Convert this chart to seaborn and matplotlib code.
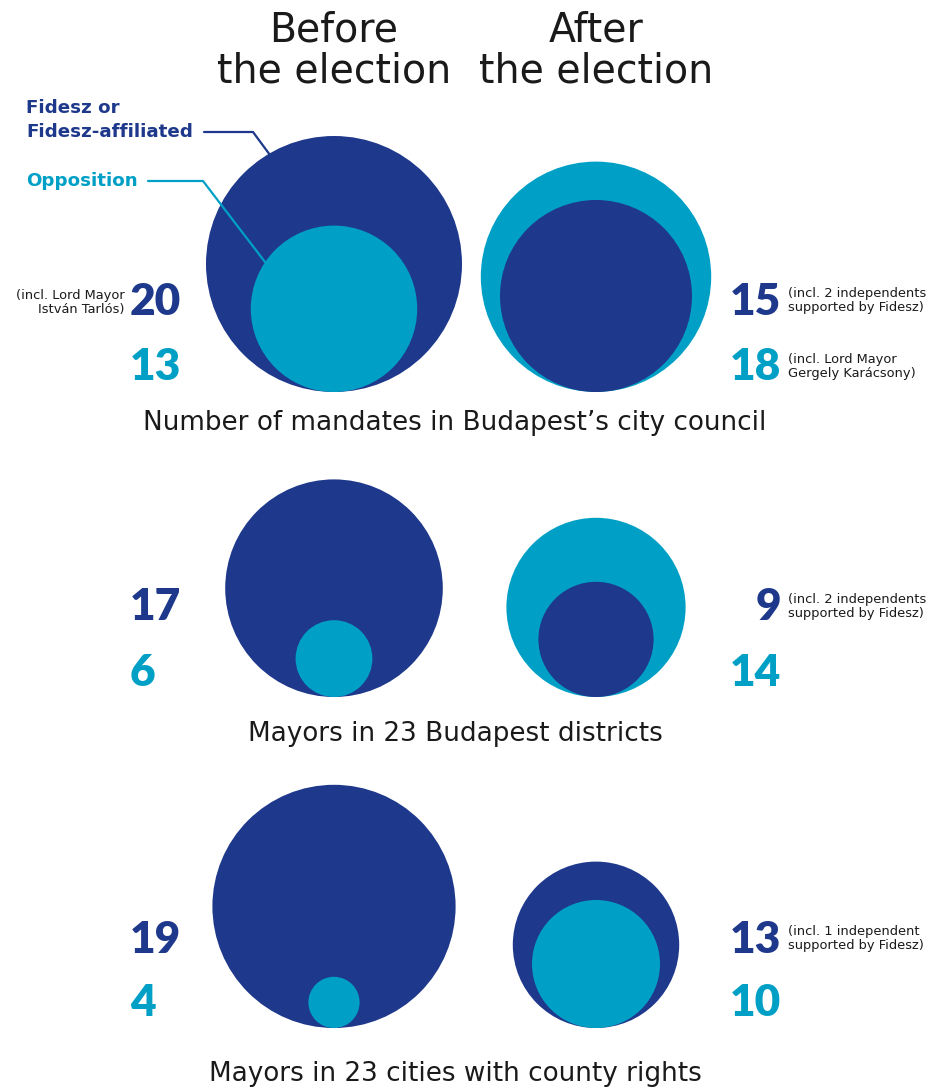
import numpy as np
import pandas as pd
import matplotlib
matplotlib.use("Agg")
import matplotlib.pyplot as plt
import seaborn as sns

# ---------------- data ----------------
rows = ["Number of mandates in Budapest\u2019s city council",
        "Mayors in 23 Budapest districts",
        "Mayors in 23 cities with county rights"]
fidesz_before = [20, 17, 19]
opp_before = [13, 6, 4]
fidesz_after = [15, 9, 13]
opp_after = [18, 14, 10]
notes_before = ["(incl. Lord Mayor\nIstv\u00e1n Tarl\u00f3s)", "", ""]
notes_after_fidesz = ["(incl. 2 independents\nsupported by Fidesz)",
                      "(incl. 2 independents\nsupported by Fidesz)",
                      "(incl. 1 independent\nsupported by Fidesz)"]
notes_after_opp = ["(incl. Lord Mayor\nGergely Kar\u00e1csony)", "", ""]

NAVY = "#1E388B"
CYAN = "#00A0C6"
TEXT = "#1a1a1a"

# ---------------- layout ----------------
W, H = 942, 1088
DPI = 100
scale = 6.4                       # px of radius per unit
cx_before, cx_after = 334, 596
row_bottom = [392, 697, 1028]
num_y = [(302, 367), (607, 673), (940, 1003)]
caption_y = [423, 734, 1074]

sns.set_theme(style="white")
plt.rcParams["font.family"] = ["DejaVu Sans"]
NUMFONT = ["Lato", "DejaVu Sans"]

fig = plt.figure(figsize=(W / DPI, H / DPI), dpi=DPI)
ax = fig.add_axes([0, 0, 1, 1])
renderer = fig.canvas.get_renderer()

recs = []
for i in range(3):
    for cx, f, o in [(cx_before, fidesz_before[i], opp_before[i]),
                     (cx_after, fidesz_after[i], opp_after[i])]:
        for party, v in [("Fidesz", f), ("Opposition", o)]:
            r = v * scale
            recs.append(dict(x=cx, y=row_bottom[i] - r, r=r, party=party))
df = pd.DataFrame(recs).sort_values("r", ascending=False).reset_index(drop=True)
df["s"] = (2 * df["r"] * 72 / DPI) ** 2

sns.scatterplot(data=df, x="x", y="y", hue="party",
                palette={"Fidesz": NAVY, "Opposition": CYAN},
                s=df["s"].values, linewidth=0, legend=False, ax=ax, zorder=2)

ax.set_xlim(0, W)
ax.set_ylim(H, 0)
ax.set_axis_off()


def fit_size(s, width, **kw):
    t = ax.text(0, 0, s, fontsize=10, **kw)
    w = t.get_window_extent(renderer).width
    t.remove()
    return 10 * width / w


# font sizes fitted to reference text widths
fs_title = fit_size("the election", 234)
fs_legend = fit_size("Fidesz-affiliated", 166, fontweight="bold")
fs_num = fit_size("20", 51, fontweight="heavy", family=NUMFONT)
fs_note = fit_size("(incl. 2 independents", 137)
fs_cap = fit_size(rows[0], 622)

# titles
for cx, lab in [(cx_before, "Before\nthe election"), (cx_after, "After\nthe election")]:
    ax.text(cx, 51, lab, ha="center", va="center", fontsize=fs_title,
            color=TEXT, linespacing=1.05)

# legend labels with leader lines
ax.text(26, 120, "Fidesz or\nFidesz-affiliated", ha="left", va="center",
        fontsize=fs_legend, color=NAVY, fontweight="bold", linespacing=1.4)
ax.plot([204, 253, 270], [132, 132, 155], color=NAVY, lw=1.6, zorder=3)
ax.text(26, 181, "Opposition", ha="left", va="center",
        fontsize=fs_legend, color=CYAN, fontweight="bold")
ax.plot([148, 203, 265], [181, 181, 262], color=CYAN, lw=1.6, zorder=3)

for i in range(3):
    yf, yo = num_y[i]
    ax.text(130, yf, str(fidesz_before[i]), ha="left", va="center",
            fontsize=fs_num, color=NAVY, fontweight="heavy", family=NUMFONT)
    ax.text(130, yo, str(opp_before[i]), ha="left", va="center",
            fontsize=fs_num, color=CYAN, fontweight="heavy", family=NUMFONT)
    if notes_before[i]:
        ax.text(125, yf, notes_before[i], ha="right", va="center",
                fontsize=fs_note, color=TEXT, linespacing=1.1)
    ax.text(781, yf, str(fidesz_after[i]), ha="right", va="center",
            fontsize=fs_num, color=NAVY, fontweight="heavy", family=NUMFONT)
    ax.text(781, yo, str(opp_after[i]), ha="right", va="center",
            fontsize=fs_num, color=CYAN, fontweight="heavy", family=NUMFONT)
    if notes_after_fidesz[i]:
        ax.text(788, yf - 1, notes_after_fidesz[i], ha="left", va="center",
                fontsize=fs_note, color=TEXT, linespacing=1.1)
    if notes_after_opp[i]:
        ax.text(788, yo, notes_after_opp[i], ha="left", va="center",
                fontsize=fs_note, color=TEXT, linespacing=1.1)
    ax.text(455, caption_y[i], rows[i], ha="center", va="center",
            fontsize=fs_cap, color=TEXT)

fig.savefig("out.png", dpi=DPI, facecolor="white")
